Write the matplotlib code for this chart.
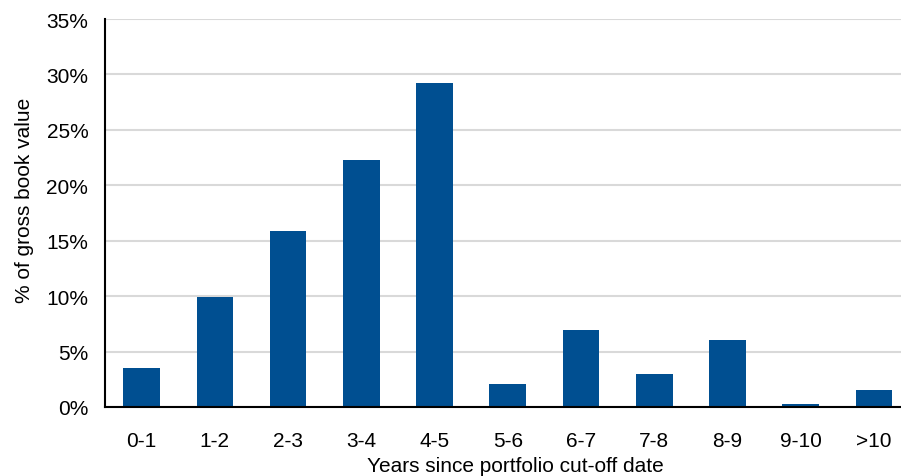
import numpy as np
import matplotlib.pyplot as plt
from matplotlib.ticker import PercentFormatter

# Maturity buckets and share of gross book value (%)
categories = ['0-1', '1-2', '2-3', '3-4', '4-5', '5-6', '6-7', '7-8', '8-9', '9-10', '>10']
share_pct = [3.5, 9.9, 15.9, 22.3, 29.2, 2.1, 6.9, 3.0, 6.0, 0.3, 1.5]

plt.rcParams['font.family'] = ['Liberation Sans', 'DejaVu Sans']

fig = plt.figure(figsize=(9.01, 4.77), dpi=100)
ax = fig.add_axes([0.1165, 0.1447, 0.8835, 0.8133])

x = np.arange(len(categories))
ax.bar(x, share_pct, width=0.5, color='#004f91', zorder=3)

ax.set_ylim(0, 35)
ax.set_yticks(np.arange(0, 36, 5))
ax.yaxis.set_major_formatter(PercentFormatter(decimals=0))
ax.set_xlim(-0.5, 10.37)
ax.set_xticks(x)
ax.set_xticklabels(categories)
ax.tick_params(axis='both', length=0, labelsize=15, colors='#000000')
ax.tick_params(axis='x', pad=17)
ax.tick_params(axis='y', pad=12)

ax.grid(axis='y', color='#d9d9d9', linewidth=1.5, zorder=0)
for side in ['top', 'right']:
    ax.spines[side].set_visible(False)
ax.spines['left'].set_linewidth(1.5)
ax.spines['bottom'].set_linewidth(1.5)
ax.spines['left'].set_zorder(4)
ax.spines['bottom'].set_zorder(4)

ax.set_xlabel('Years since portfolio cut-off date', fontsize=15)
ax.xaxis.set_label_coords(0.515, -0.127)
ax.set_ylabel('% of gross book value', fontsize=15)
ax.yaxis.set_label_coords(-0.089, 0.536)

plt.savefig('out.png', dpi=100)
